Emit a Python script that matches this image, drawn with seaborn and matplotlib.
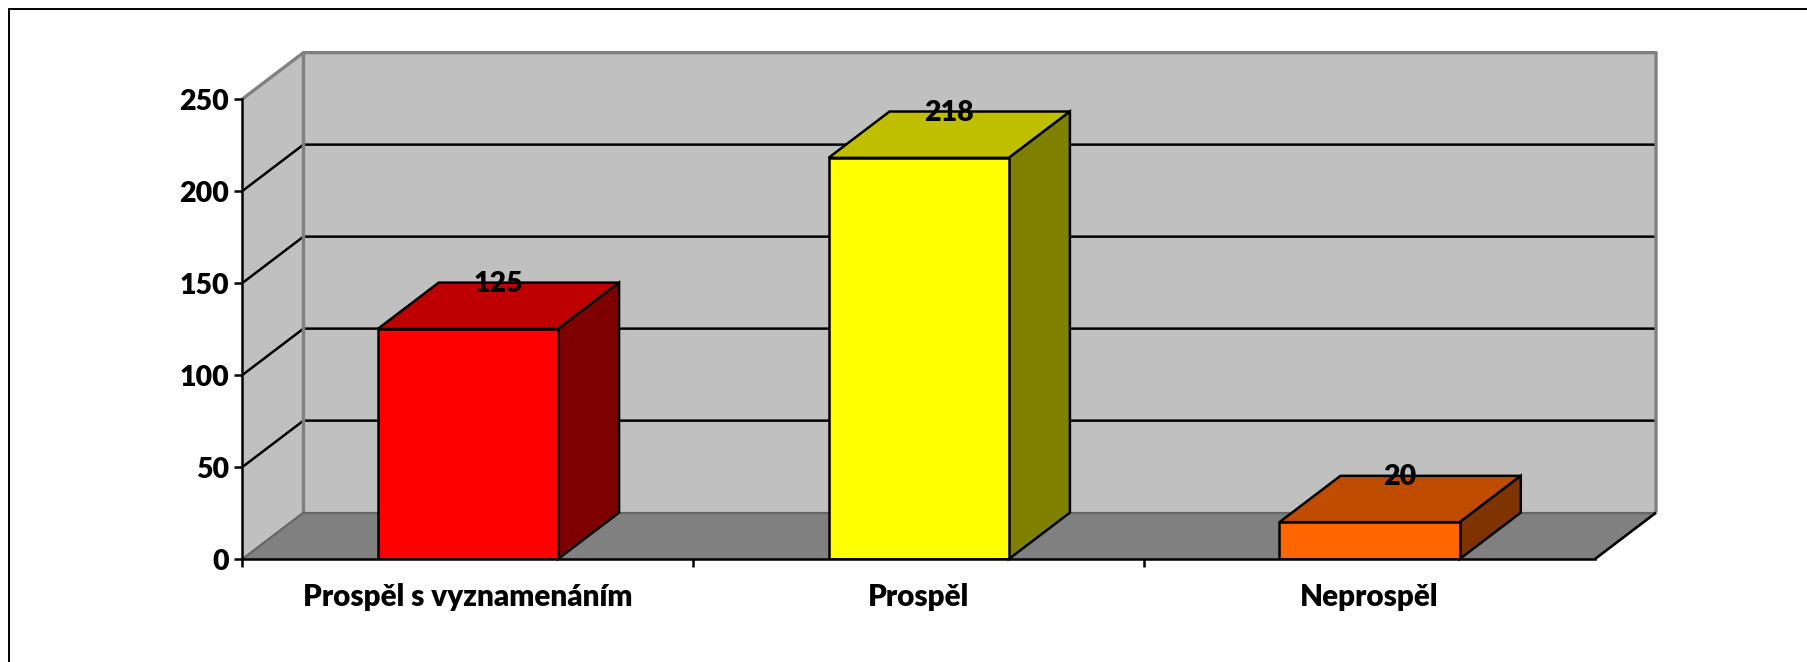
import matplotlib
matplotlib.use("Agg")
import matplotlib.pyplot as plt
from matplotlib.lines import Line2D
from matplotlib.patches import Polygon
import seaborn as sns

categories = ["Prospěl s vyznamenáním", "Prospěl", "Neprospěl"]
values = [125, 218, 20]
y_ticks = [0, 50, 100, 150, 200, 250]
front_colors = ["#FF0000", "#FFFF00", "#FF6600"]
top_colors = ["#BF0000", "#BFBF00", "#BF4C00"]
side_colors = ["#7F0000", "#7F7F00", "#7F3300"]

WALL = "#C0C0C0"
FLOOR = "#808080"
EDGE_GREY = "#808080"
DX, DY = 0.1354, 25.2   # depth of the pseudo-3D projection, data units
W, H = 1807, 662
LW = 1.8

sns.set_theme(style="white")
plt.rcParams["font.family"] = ["Lato", "DejaVu Sans"]
plt.rcParams["font.weight"] = "heavy"

fig = plt.figure(figsize=(W / 100, H / 100), dpi=100, facecolor="white")
ax = fig.add_axes([242.4 / W, 1 - 559 / H, (1595 - 242.4) / W, (559 - 99) / H])
ax.patch.set_visible(False)

sns.barplot(x=categories, y=values, hue=categories, palette=front_colors, width=0.4,
            edgecolor="black", linewidth=LW, legend=False, ax=ax, zorder=6, saturation=1)
ax.set_xlim(-0.5, 2.5)
ax.set_ylim(0, 250)
x0, x1 = -0.5, 2.5
ymax = 250


def poly(pts, face, edge="none", lw=0, z=1):
    ax.add_patch(Polygon(pts, closed=True, facecolor=face, edgecolor=edge, linewidth=lw,
                         zorder=z, clip_on=False, joinstyle="miter"))


def line(xs, ys, color="black", lw=LW, z=3):
    ax.add_line(Line2D(xs, ys, color=color, linewidth=lw, zorder=z, clip_on=False,
                       solid_capstyle="butt"))


# back wall, side wall, floor
poly([(x0 + DX, DY), (x1 + DX, DY), (x1 + DX, ymax + DY), (x0 + DX, ymax + DY)], WALL, z=1)
poly([(x0, 0), (x0 + DX, DY), (x0 + DX, ymax + DY), (x0, ymax)], WALL, z=1)
poly([(x0, 0), (x1, 0), (x1 + DX, DY), (x0 + DX, DY)], FLOOR, z=1)

# grid lines
for v in y_ticks[1:-1]:
    line([x0, x0 + DX, x1 + DX], [v, v + DY, v + DY], z=2)

# wall edges
line([x0, x0 + DX, x1 + DX, x1 + DX], [ymax, ymax + DY, ymax + DY, DY], EDGE_GREY, 2.4, z=2.5)
line([x0 + DX, x0 + DX], [DY, ymax + DY], EDGE_GREY, 2.4, z=2.5)
line([x0 + DX, x1 + DX], [DY, DY], "#666666", 1.6, z=2.5)
line([x0, x0 + DX], [0, DY], "#666666", 1.6, z=2.5)
line([x1, x1 + DX], [0, DY], "black", 1.9, z=2.6)

# bar top and side faces plus value labels
for bar, v, tc, sc in zip(ax.patches[:3], values, top_colors, side_colors):
    a = bar.get_x()
    b = a + bar.get_width()
    h = bar.get_height()
    poly([(a, h), (b, h), (b + DX, h + DY), (a + DX, h + DY)], tc, "black", LW, z=4)
    poly([(b, 0), (b + DX, DY), (b + DX, h + DY), (b, h)], sc, "black", LW, z=4)
    ax.text((a + b + DX) / 2, h + DY - 0.6, str(v), ha="center", va="center", fontsize=20.5,
            fontweight="heavy", color="black", zorder=8)

# axes
sns.despine(ax=ax, top=True, right=True)
for s in ("left", "bottom"):
    ax.spines[s].set_linewidth(LW)
    ax.spines[s].set_color("black")
    ax.spines[s].set_zorder(7)
ax.set_yticks(y_ticks)
ax.set_xticks([0, 1, 2])
ax.set_xticklabels(categories)
ax.set_xticks([-0.5, 0.5, 1.5], minor=True)
ax.tick_params(axis="y", which="major", direction="out", length=5.5, width=LW, color="black",
               left=True, labelsize=20.5, pad=4, labelcolor="black")
ax.tick_params(axis="x", which="major", length=0, labelsize=21.3, pad=17.5, labelcolor="black")
ax.tick_params(axis="x", which="minor", direction="out", length=5.5, width=LW, color="black",
               bottom=True)
for lab in ax.get_xticklabels() + ax.get_yticklabels():
    lab.set_fontweight("heavy")

# outer frame: only top and left edges are visible
fig.add_artist(Line2D([9 / W, 9 / W], [0, 1 - 9 / H], color="black", linewidth=1.4))
fig.add_artist(Line2D([9 / W, 1], [1 - 9 / H, 1 - 9 / H], color="black", linewidth=1.4))

fig.savefig("out.png", dpi=100, facecolor="white")
